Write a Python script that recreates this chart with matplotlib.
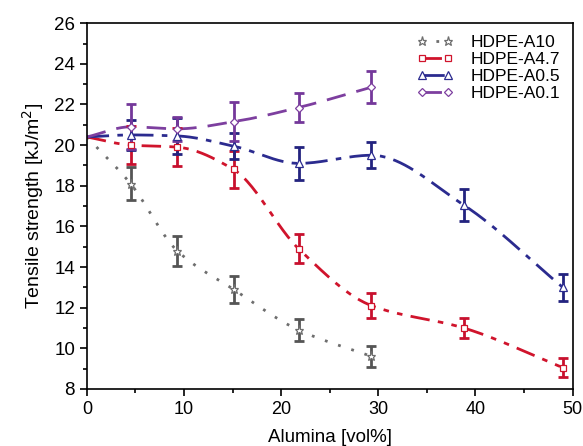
"""
Tensile strength vs alumina content, HDPE composites
"""
import matplotlib
matplotlib.use('Agg')
import matplotlib.pyplot as plt
from matplotlib import rcParams
from matplotlib.lines import Line2D
from matplotlib.legend_handler import HandlerLine2D
import numpy as np

rcParams['font.family'] = ['Liberation Sans', 'DejaVu Sans']
rcParams['font.size'] = 13

# data
x_a10 = [0, 4.5, 9.3, 15.1, 21.8, 29.3]
y_a10 = [20.4, 18.1, 14.8, 12.9, 10.9, 9.6]
e_a10 = [0, 0.8, 0.75, 0.65, 0.55, 0.5]

x_a47 = [0, 4.5, 9.3, 15.1, 21.8, 29.3, 38.8, 49.0]
y_a47 = [20.4, 20.0, 19.9, 18.8, 14.9, 12.1, 11.0, 9.05]
e_a47 = [0, 0.95, 0.95, 0.9, 0.7, 0.6, 0.5, 0.45]

x_a05 = [0, 4.5, 9.3, 15.1, 21.8, 29.3, 38.8, 49.0]
y_a05 = [20.4, 20.5, 20.45, 19.95, 19.1, 19.5, 17.05, 13.0]
e_a05 = [0, 0.75, 0.9, 0.65, 0.8, 0.65, 0.8, 0.65]

x_a01 = [0, 4.5, 9.3, 15.1, 21.8, 29.3]
y_a01 = [20.4, 20.9, 20.8, 21.15, 21.85, 22.85]
e_a01 = [0, 1.1, 0.6, 0.95, 0.7, 0.8]

labels = ['HDPE-A10', 'HDPE-A4.7', 'HDPE-A0.5', 'HDPE-A0.1']


def smooth(x, y, n=200):
    # monotone cubic (Fritsch-Carlson) just for drawing the connecting curve
    x = np.asarray(x, float); y = np.asarray(y, float)
    h = np.diff(x); d = np.diff(y) / h
    m = np.zeros_like(y)
    m[0], m[-1] = d[0], d[-1]
    for i in range(1, len(y) - 1):
        if d[i-1] * d[i] > 0:
            w1 = 2*h[i] + h[i-1]; w2 = h[i] + 2*h[i-1]
            m[i] = (w1 + w2) / (w1/d[i-1] + w2/d[i])
    xs = np.linspace(x[0], x[-1], n)
    k = np.clip(np.searchsorted(x, xs) - 1, 0, len(x) - 2)
    t = (xs - x[k]) / h[k]
    h00 = 2*t**3 - 3*t**2 + 1; h10 = t**3 - 2*t**2 + t
    h01 = -2*t**3 + 3*t**2; h11 = t**3 - t**2
    ys = h00*y[k] + h10*h[k]*m[k] + h01*y[k+1] + h11*h[k]*m[k+1]
    return xs, ys


series = [
    (x_a10, y_a10, e_a10, '#6e6e6e', '#555555', (0, (1, 4)), '*', 6.5),
    (x_a47, y_a47, e_a47, '#d0142c', '#c8102e', (0, (7, 3, 2, 3, 2, 3)), 's', 4.5),
    (x_a05, y_a05, e_a05, '#2b2b8f', '#23237f', (0, (8, 3, 2, 3)), '^', 5.5),
    (x_a01, y_a01, e_a01, '#7d3f9f', '#74389a', (0, (7, 4)), 'D', 4.5),
]

fig = plt.figure(figsize=(5.83, 4.46), dpi=100)
ax = fig.add_axes([0.149, 0.128, 0.833, 0.82])

handles = []
for (x, y, e, lc, ec, ls, mk, ms), lab in zip(series, labels):
    xs, ys = smooth(x, y)
    ax.plot(xs, ys, color=lc, lw=2.0, ls=ls, zorder=2)
    ax.errorbar(x[1:], y[1:], yerr=e[1:], fmt='none', ecolor=ec,
                elinewidth=2.0, capsize=3.5, capthick=2.0, zorder=3)
    ax.plot(x[1:], y[1:], ls='none', marker=mk, ms=ms, mfc='white',
            mec=lc, mew=0.9, zorder=4)
    handles.append(Line2D([], [], color=lc, lw=2.0, ls=ls, marker=mk, ms=ms,
                          mfc='white', mec=lc, mew=0.9))

ax.set_xlim(0, 50)
ax.set_ylim(8, 26)
ax.set_xticks(np.arange(0, 51, 10))
ax.set_xticks(np.arange(0, 51, 5), minor=True)
ax.set_yticks(np.arange(8, 27, 2))
ax.set_yticks(np.arange(8, 27, 1), minor=True)
ax.tick_params(which='major', direction='out', length=5, width=1.2, labelsize=13.5)
ax.tick_params(axis='x', which='major', labelsize=13)
ax.tick_params(which='minor', direction='out', length=3, width=1.2)
for s in ax.spines.values():
    s.set_linewidth(1.2)

ax.set_xlabel('Alumina [vol%]', fontsize=13.5, labelpad=8)
ax.set_ylabel('Tensile strength [kJ/m$^2$]', fontsize=14, labelpad=6)

ax.legend(handles, labels, loc='upper right', frameon=False, numpoints=2,
          handler_map={Line2D: HandlerLine2D(marker_pad=0.9)},
          handlelength=3.3, handletextpad=0.4, labelspacing=0.1,
          borderaxespad=0.3, fontsize=12.5)

fig.savefig('out.png', dpi=100)
